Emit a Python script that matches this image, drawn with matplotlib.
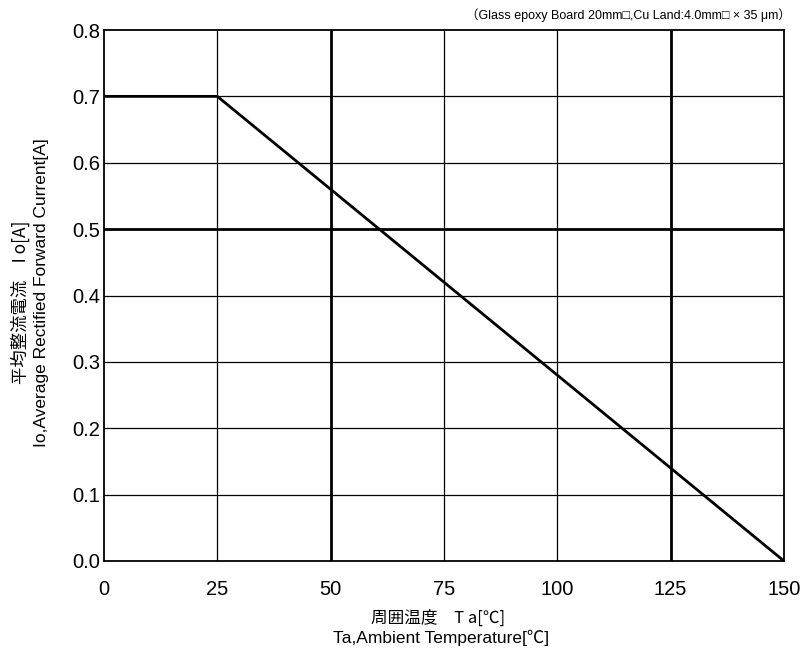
import matplotlib
matplotlib.use("Agg")
import matplotlib.pyplot as plt

plt.rcParams['font.family'] = ['Liberation Sans', 'Noto Sans CJK JP', 'DejaVu Sans']

temp = [0, 25, 150]
current = [0.7, 0.7, 0.0]
xticks = [0, 25, 50, 75, 100, 125, 150]
yticks = [0.0, 0.1, 0.2, 0.3, 0.4, 0.5, 0.6, 0.7, 0.8]
bold_x = [50, 125]
bold_y = [0.5]

fig = plt.figure(figsize=(8.06, 6.53), dpi=100)
ax = fig.add_axes([104/806, 1-561/653, (784-104)/806, (561-30)/653])
ax.set_xlim(0, 150)
ax.set_ylim(0, 0.8)
ax.set_xticks(xticks)
ax.set_yticks(yticks)
ax.set_xticklabels([str(t) for t in xticks])
ax.set_yticklabels([f"{t:.1f}" for t in yticks])
ax.tick_params(length=0, labelsize=14.5)
ax.tick_params(axis='y', pad=3)
ax.tick_params(axis='x', pad=14)
for t in xticks[1:-1]:
    ax.axvline(t, color='black', lw=2.0 if t in bold_x else 0.9, zorder=1)
for t in yticks[1:-1]:
    ax.axhline(t, color='black', lw=2.0 if t in bold_y else 0.9, zorder=1)
for s in ax.spines.values():
    s.set_linewidth(1.3)
ax.plot(temp, current, color='black', lw=2.0, zorder=3)

fig.text(791/806, 1-15/653, "（Glass epoxy Board 20mm□,Cu Land:4.0mm□ × 35 μm）",
         ha='right', va='center', fontsize=9,
         family=['Liberation Sans', 'Noto Sans CJK JP'])
fig.text(438/806, 1-618/653, "周囲温度　T a[℃]", ha='center', va='center', fontsize=12,
         family=['Noto Sans CJK JP', 'Liberation Sans'])
fig.text(441/806, 1-638/653, "Ta,Ambient Temperature[℃]", ha='center', va='center', fontsize=12.5,
         family=['Liberation Sans', 'Noto Sans CJK JP'])
fig.text(20/806, 1-302/653, "平均整流電流　I o[A]", ha='center', va='center', fontsize=12.5,
         rotation=90, family=['Noto Sans CJK JP', 'Liberation Sans'])
fig.text(42/806, 1-293/653, "Io,Average Rectified Forward Current[A]", ha='center', va='center',
         fontsize=12.5, rotation=90, family=['Liberation Sans', 'Noto Sans CJK JP'])

fig.savefig("out.png", dpi=100)
